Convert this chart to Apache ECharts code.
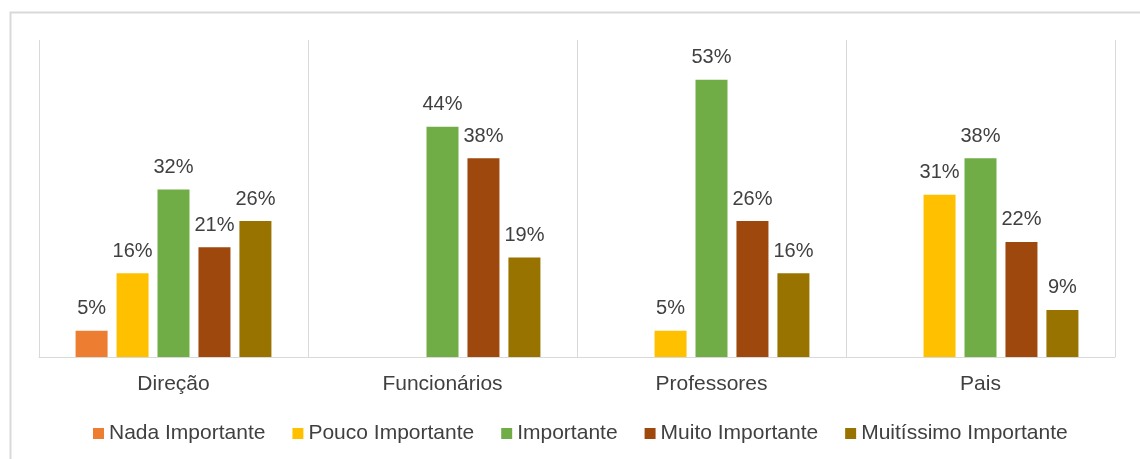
<!DOCTYPE html>
<html>
<head>
<meta charset="utf-8">
<script src="https://cdn.jsdelivr.net/npm/echarts@6/dist/echarts.min.js"></script>
<style>
html,body{margin:0;padding:0;background:#fff;}
#c{width:1140px;height:459px;}
</style>
</head>
<body>
<div id="c"></div>
<script>
const categories = ['Direção', 'Funcionários', 'Professores', 'Pais'];
const seriesNames = ['Nada Importante', 'Pouco Importante', 'Importante', 'Muito Importante', 'Muitíssimo Importante'];
const nadaImportante = [5, null, null, null];
const poucoImportante = [16, null, 5, 31];
const importante = [32, 44, 53, 38];
const muitoImportante = [21, 38, 26, 22];
const muitissimoImportante = [26, 19, 16, 9];
const colors = ['#ED7D31', '#FFC000', '#70AD47', '#9E480E', '#997300'];

const values = [nadaImportante, poucoImportante, importante, muitoImportante, muitissimoImportante];
const font = '"Liberation Sans", Arial, sans-serif';

const chart = echarts.init(document.getElementById('c'));
chart.setOption({
  animation: false,
  textStyle: { fontFamily: font },
  graphic: [{
    type: 'rect',
    shape: { x: 10.5, y: 12.5, width: 1200, height: 500 },
    style: { fill: 'none', stroke: '#d9d9d9', lineWidth: 2 },
    silent: true
  }],
  grid: { left: 39, right: 25, top: 40, bottom: 102 },
  legend: {
    data: seriesNames,
    left: 93,
    top: 423,
    padding: 0,
    icon: 'rect',
    itemWidth: 11,
    itemHeight: 11,
    itemGap: 27,
    textStyle: { fontSize: 21, color: '#404040', fontFamily: font }
  },
  xAxis: {
    type: 'category',
    data: categories,
    axisLine: { lineStyle: { color: '#d9d9d9', width: 1 } },
    axisTick: { show: false },
    splitLine: { show: true, interval: 0, lineStyle: { color: '#d9d9d9', width: 1 } },
    axisLabel: { fontSize: 21, color: '#404040', margin: 17, fontFamily: font }
  },
  yAxis: {
    type: 'value',
    min: 0,
    max: 60.6,
    show: false,
    splitLine: { show: false }
  },
  series: values.map((v, i) => ({
    name: seriesNames[i],
    type: 'bar',
    data: v,
    barWidth: 32,
    barGap: '28%',
    itemStyle: { color: colors[i] },
    label: {
      show: true,
      position: 'top',
      distance: 12,
      fontSize: 20,
      color: '#404040',
      fontFamily: font,
      formatter: p => p.value + '%'
    }
  }))
});
</script>
</body>
</html>
